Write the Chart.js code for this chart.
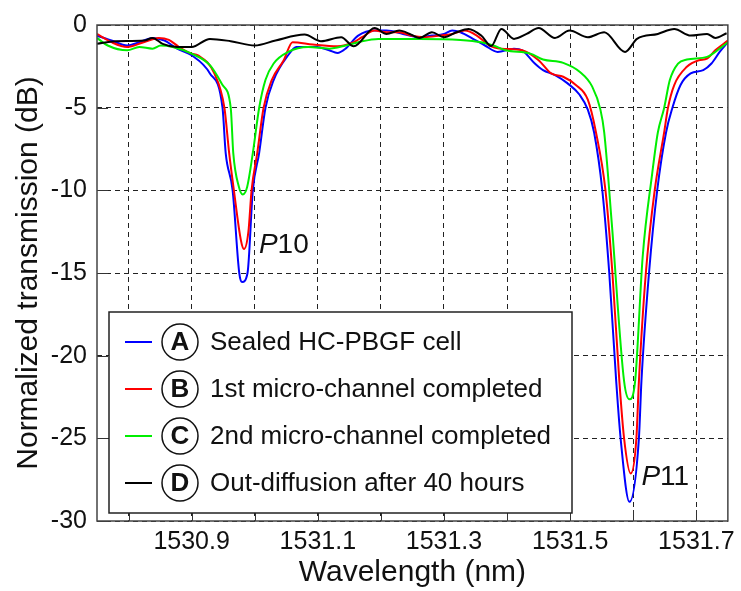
<!DOCTYPE html>
<html>
<head>
<meta charset="utf-8">
<script src="https://cdn.jsdelivr.net/npm/chart.js@4.4.1/dist/chart.umd.min.js"></script>
<style>
    html, body { margin: 0; padding: 0; background: #fff; }
</style>
</head>
<body>
<canvas id="myChart" width="741" height="591"></canvas>
<script>
// series names and legend letters
var seriesNames = ["Sealed HC-PBGF cell", "1st micro-channel completed", "2nd micro-channel completed", "Out-diffusion after 40 hours"];
var seriesLetters = ["A", "B", "C", "D"];
var seriesColors = ["#0000ff", "#ff0000", "#00ee00", "#000000"];

// x grid every 0.1 nm, labels on every other one
var xTickValues = [1530.8, 1530.9, 1531.0, 1531.1, 1531.2, 1531.3, 1531.4, 1531.5, 1531.6, 1531.7];
var xTickLabels = ["1530.9", "1531.1", "1531.3", "1531.5", "1531.7"];
var yTickValues = [-30, -25, -20, -15, -10, -5, 0];

// A - sealed cell (blue)
var waveA = [1530.750, 1530.773, 1530.798, 1530.817, 1530.838, 1530.857, 1530.877, 1530.900, 1530.929, 1530.949, 1530.954, 1530.965, 1530.9755, 1530.980, 1530.9886, 1530.997, 1531.007, 1531.017, 1531.030, 1531.053, 1531.066, 1531.098, 1531.118, 1531.131, 1531.144, 1531.164, 1531.190, 1531.209, 1531.235, 1531.261, 1531.281, 1531.300, 1531.313, 1531.326, 1531.346, 1531.365, 1531.385, 1531.411, 1531.424, 1531.444, 1531.457, 1531.476, 1531.496, 1531.515, 1531.528, 1531.538, 1531.551, 1531.562, 1531.573, 1531.580, 1531.594, 1531.609, 1531.613, 1531.625, 1531.638, 1531.652, 1531.662, 1531.675, 1531.691, 1531.711, 1531.724, 1531.737, 1531.750];
var lossA = [-0.64, -0.94, -1.24, -1.04, -0.78, -0.94, -1.43, -1.83, -2.93, -5.02, -7.75, -10.0, -15.0, -15.55, -15.0, -10.0, -7.75, -5.02, -3.33, -1.83, -1.33, -1.33, -1.53, -1.69, -1.43, -0.64, -0.34, -0.34, -0.54, -0.74, -0.64, -0.54, -0.34, -0.44, -0.84, -1.24, -1.63, -1.43, -1.53, -2.33, -2.73, -3.03, -3.53, -4.22, -5.12, -6.5, -10.0, -15.0, -21.54, -25.0, -28.84, -25.0, -21.54, -15.0, -10.0, -6.5, -5.02, -3.63, -2.93, -2.73, -2.33, -1.63, -1.04];

// B - 1st micro-channel (red)
var waveB = [1530.750, 1530.773, 1530.798, 1530.824, 1530.848, 1530.864, 1530.880, 1530.900, 1530.910, 1530.936, 1530.952, 1530.9595, 1530.967, 1530.978, 1530.983, 1530.990, 1530.995, 1531.004, 1531.014, 1531.027, 1531.046, 1531.060, 1531.092, 1531.131, 1531.157, 1531.170, 1531.190, 1531.209, 1531.229, 1531.248, 1531.268, 1531.294, 1531.313, 1531.333, 1531.352, 1531.372, 1531.391, 1531.424, 1531.450, 1531.470, 1531.489, 1531.509, 1531.528, 1531.541, 1531.556, 1531.567, 1531.578, 1531.5855, 1531.596, 1531.605, 1531.609, 1531.620, 1531.634, 1531.649, 1531.655, 1531.665, 1531.685, 1531.704, 1531.717, 1531.730, 1531.750];
var lossB = [-0.54, -1.04, -1.33, -1.04, -0.78, -0.90, -1.33, -1.73, -1.83, -2.93, -5.02, -7.75, -10.0, -13.0, -13.55, -12.5, -10.0, -7.75, -5.02, -3.33, -2.13, -1.04, -1.18, -1.29, -1.04, -0.74, -0.34, -0.44, -0.44, -0.64, -0.74, -0.64, -0.54, -0.34, -0.64, -1.24, -1.43, -1.53, -2.13, -2.93, -3.13, -3.63, -4.52, -6.5, -10.0, -15.0, -21.54, -25.0, -27.13, -25.0, -21.54, -15.0, -10.0, -6.5, -5.02, -3.63, -2.53, -2.13, -2.03, -1.53, -0.94];

// C - 2nd micro-channel (green)
var waveC = [1530.750, 1530.767, 1530.798, 1530.817, 1530.838, 1530.851, 1530.870, 1530.900, 1530.929, 1530.949, 1530.962, 1530.966, 1530.975, 1530.981, 1530.988, 1530.997, 1531.007, 1531.017, 1531.030, 1531.053, 1531.085, 1531.118, 1531.144, 1531.164, 1531.196, 1531.261, 1531.326, 1531.359, 1531.378, 1531.398, 1531.437, 1531.457, 1531.489, 1531.515, 1531.535, 1531.548, 1531.554, 1531.566, 1531.5855, 1531.594, 1531.603, 1531.615, 1531.630, 1531.639, 1531.649, 1531.658, 1531.671, 1531.685, 1531.717, 1531.730, 1531.750];
var lossC = [-0.78, -1.24, -1.53, -1.33, -1.43, -1.24, -1.33, -1.73, -2.43, -3.63, -5.02, -7.75, -9.8, -10.25, -9.8, -7.75, -5.02, -3.33, -2.33, -1.63, -1.33, -1.43, -1.24, -1.04, -0.84, -0.84, -0.90, -1.04, -1.24, -1.53, -1.73, -2.09, -2.29, -2.83, -3.73, -5.12, -6.5, -12.0, -21.54, -22.64, -21.54, -14.0, -9.0, -6.5, -5.02, -3.33, -2.33, -2.09, -1.93, -1.63, -1.04];

// D - out-diffusion after 40 h (black)
var waveD = [1530.750, 1530.779, 1530.825, 1530.838, 1530.854, 1530.877, 1530.900, 1530.929, 1530.962, 1531.000, 1531.033, 1531.079, 1531.105, 1531.137, 1531.157, 1531.190, 1531.209, 1531.229, 1531.248, 1531.261, 1531.281, 1531.300, 1531.320, 1531.339, 1531.359, 1531.375, 1531.391, 1531.411, 1531.431, 1531.450, 1531.476, 1531.499, 1531.528, 1531.554, 1531.587, 1531.606, 1531.639, 1531.665, 1531.691, 1531.717, 1531.730, 1531.748];
var lossD = [-1.14, -0.98, -0.94, -0.78, -1.14, -1.33, -1.33, -0.84, -0.98, -1.24, -0.94, -0.58, -0.98, -0.74, -1.29, -0.18, -0.54, -0.34, -0.58, -0.78, -0.44, -0.74, -0.44, -0.24, -0.64, -1.27, -0.24, -0.84, -0.54, -0.18, -0.78, -0.34, -0.74, -0.44, -1.63, -0.84, -0.54, -0.24, -0.64, -0.54, -0.78, -0.50];

// peak labels
var peakNames = ["10", "11"];
var peakWave = [1531.0066, 1531.613];
var peakLoss = [-13.33, -27.36];

var waves = [waveA, waveB, waveC, waveD];
var losses = [lossA, lossB, lossC, lossD];

function toPoints(xs, ys) {
    return xs.map(function (x, i) {
        return { x: x, y: ys[i] };
    });
}

var font = "'Liberation Sans', Arial, sans-serif";

var datasets = seriesNames.map(function (name, i) {
    return {
        label: name,
        data: toPoints(waves[i], losses[i]),
        borderColor: seriesColors[i],
        borderWidth: 2,
        pointRadius: 0,
        cubicInterpolationMode: "monotone",
        fill: false,
        order: 3 - i
    };
});

// frame, inner ticks, peak labels and the circled legend
var extrasPlugin = {
    id: "extras",
    afterDatasetsDraw: function (chart) {
        var ctx = chart.ctx;
        var area = chart.chartArea;
        var xs = chart.scales.x, ys = chart.scales.y;
        ctx.save();

        // inner tick marks
        ctx.strokeStyle = "#333";
        ctx.lineWidth = 1;
        ctx.setLineDash([]);
        xTickValues.forEach(function (v) {
            var px = Math.round(xs.getPixelForValue(v)) + 0.5;
            ctx.beginPath();
            ctx.moveTo(px, area.bottom);
            ctx.lineTo(px, area.bottom - 11);
            ctx.stroke();
        });
        yTickValues.forEach(function (v) {
            var py = Math.round(ys.getPixelForValue(v)) + 0.5;
            ctx.beginPath();
            ctx.moveTo(area.left, py);
            ctx.lineTo(area.left + 11, py);
            ctx.stroke();
        });

        // plot box
        ctx.strokeStyle = "#444";
        ctx.lineWidth = 1.5;
        ctx.strokeRect(area.left, area.top, area.right - area.left, area.bottom - area.top);

        // peak labels
        ctx.fillStyle = "#111";
        ctx.textBaseline = "middle";
        ctx.textAlign = "left";
        peakNames.forEach(function (n, i) {
            var px = xs.getPixelForValue(peakWave[i]);
            var py = ys.getPixelForValue(peakLoss[i]);
            ctx.font = "italic 28px " + font;
            ctx.fillText("P", px, py);
            var w = ctx.measureText("P").width;
            ctx.font = "28px " + font;
            ctx.fillText(n, px + w, py);
        });

        // legend box
        var x0 = area.left + 12, y0 = area.top + 287, w = 463, h = 201;
        ctx.fillStyle = "#fff";
        ctx.fillRect(x0, y0, w, h);
        ctx.strokeStyle = "#222";
        ctx.lineWidth = 1.5;
        ctx.strokeRect(x0, y0, w, h);
        seriesNames.forEach(function (name, i) {
            var y = y0 + 30 + i * 47;
            ctx.strokeStyle = seriesColors[i];
            ctx.lineWidth = 2;
            ctx.beginPath();
            ctx.moveTo(x0 + 16, y);
            ctx.lineTo(x0 + 43, y);
            ctx.stroke();

            ctx.strokeStyle = "#111";
            ctx.lineWidth = 1.5;
            ctx.beginPath();
            ctx.arc(x0 + 71, y, 18, 0, Math.PI * 2);
            ctx.stroke();

            ctx.fillStyle = "#111";
            ctx.textAlign = "center";
            ctx.font = "bold 26px " + font;
            ctx.fillText(seriesLetters[i], x0 + 71, y + 1);

            ctx.textAlign = "left";
            ctx.font = "26px " + font;
            ctx.fillText(name, x0 + 101, y + 1);
        });
        ctx.restore();
    }
};

var ctx = document.getElementById("myChart").getContext("2d");
var myChart = new Chart(ctx, {
    type: "line",
    data: { datasets: datasets },
    options: {
        responsive: false,
        animation: false,
        devicePixelRatio: 1,
        layout: { padding: { top: 21, right: 9, left: 0, bottom: 0 } },
        plugins: {
            legend: { display: false },
            tooltip: { enabled: false }
        },
        scales: {
            x: {
                type: "linear",
                min: 1530.75,
                max: 1531.75,
                afterFit: function (scale) { scale.height = 70; },
                afterBuildTicks: function (scale) {
                    scale.ticks = xTickValues.map(function (v) { return { value: v }; });
                },
                ticks: {
                    autoSkip: false,
                    maxRotation: 0,
                    minRotation: 0,
                    padding: 6,
                    color: "#111",
                    font: { family: font, size: 25 },
                    callback: function (value) {
                        var s = Number(value).toFixed(1);
                        return xTickLabels.indexOf(s) >= 0 ? s : "";
                    }
                },
                grid: { color: "#222", lineWidth: 1, drawTicks: false },
                border: { display: false, dash: [5, 4] },
                title: {
                    display: true,
                    text: "Wavelength (nm)",
                    color: "#111",
                    font: { family: font, size: 30 },
                    padding: { top: 0, bottom: 0 }
                }
            },
            y: {
                min: -30,
                max: 0,
                afterFit: function (scale) { scale.width = 97; },
                afterBuildTicks: function (scale) {
                    scale.ticks = yTickValues.map(function (v) { return { value: v }; });
                },
                ticks: {
                    autoSkip: false,
                    padding: 10,
                    color: "#111",
                    font: { family: font, size: 25 }
                },
                grid: { color: "#222", lineWidth: 1, drawTicks: false },
                border: { display: false, dash: [5, 4] },
                title: {
                    display: true,
                    text: "Normalized transmission (dB)",
                    color: "#111",
                    font: { family: font, size: 30 },
                    padding: { top: 11, bottom: 0 }
                }
            }
        }
    },
    plugins: [extrasPlugin]
});
</script>
</body>
</html>
